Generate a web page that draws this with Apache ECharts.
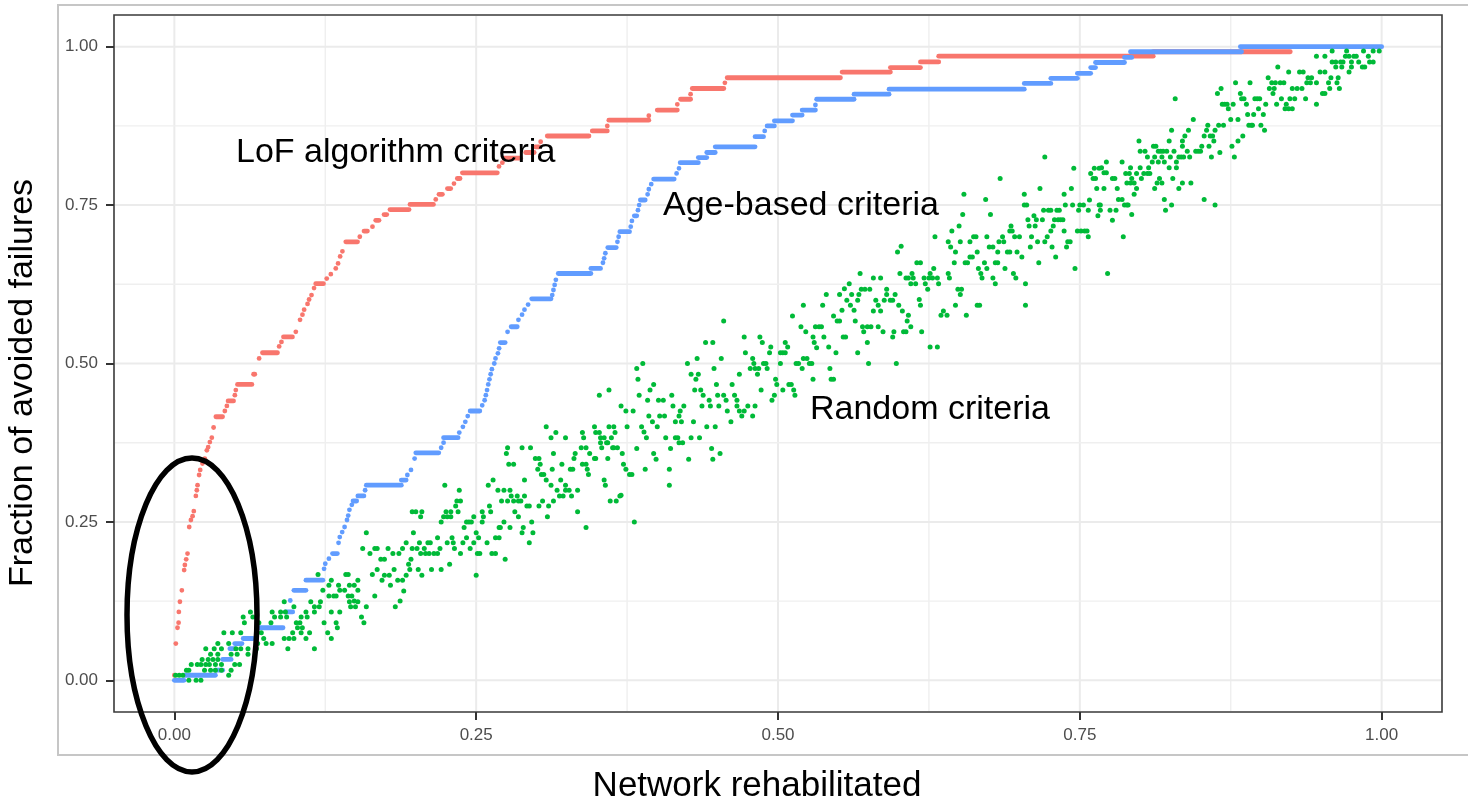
<!DOCTYPE html>
<html>
<head>
<meta charset="utf-8">
<script src="https://cdn.jsdelivr.net/npm/echarts@6/dist/echarts.min.js"></script>
<style>html,body{margin:0;padding:0;background:#fff;}#c{width:1468px;height:802px;}</style>
</head>
<body>
<div id="c"></div>
<script>
// ---------- data ----------
const xTicks = [0, 0.25, 0.5, 0.75, 1];
const yTicks = [0, 0.25, 0.5, 0.75, 1];
const xMinor = [0.125, 0.375, 0.625, 0.875];
const yMinor = [0.125, 0.375, 0.625, 0.875];

const seriesNames = ['LoF algorithm criteria', 'Age-based criteria', 'Random criteria'];
const xTitle = 'Network rehabilitated';
const yTitle = 'Fraction of avoided failures';

// LoF algorithm criteria: [x start, x end, y] runs of points
const lofRuns = [
[0,0,0.008],[0.0012,0.0012,0.058],[0.0026,0.0026,0.083],[0.0035,0.0035,0.091],[0.0037,0.0037,0.108],[0.0046,0.0046,0.124],[0.0062,0.0062,0.142],[0.0081,0.0081,0.174],[0.0087,0.0087,0.182],[0.0098,0.0098,0.191],[0.0109,0.0109,0.2],[0.0123,0.0123,0.242],[0.0137,0.0137,0.253],[0.0151,0.0151,0.259],[0.0161,0.0161,0.267],[0.0178,0.0178,0.291],[0.0186,0.0186,0.3],[0.0192,0.0192,0.308],[0.0205,0.0205,0.324],[0.0214,0.0214,0.332],[0.0233,0.0233,0.342],[0.0252,0.0252,0.35],[0.0269,0.0269,0.363],[0.028,0.028,0.368],[0.0294,0.0294,0.376],[0.031,0.031,0.383],[0.0325,0.0325,0.399],[0.0344,0.0399,0.416],[0.0418,0.0418,0.425],[0.0435,0.0435,0.433],[0.0445,0.049,0.441],[0.0501,0.0501,0.45],[0.0509,0.0509,0.458],[0.0523,0.0642,0.467],[0.0656,0.0666,0.483],[0.0702,0.0702,0.508],[0.073,0.0854,0.517],[0.0868,0.0868,0.527],[0.0887,0.0887,0.534],[0.0904,0.0978,0.542],[0.1006,0.1006,0.55],[0.1041,0.1041,0.569],[0.1061,0.1061,0.577],[0.1075,0.1075,0.585],[0.1103,0.1103,0.594],[0.1116,0.1116,0.601],[0.1136,0.1136,0.608],[0.1157,0.1157,0.619],[0.1171,0.1235,0.626],[0.1262,0.1262,0.634],[0.1296,0.1296,0.641],[0.1337,0.1337,0.65],[0.1356,0.1356,0.658],[0.1373,0.1373,0.669],[0.1392,0.1392,0.677],[0.142,0.1517,0.692],[0.1536,0.1536,0.7],[0.1571,0.1599,0.709],[0.1641,0.1641,0.716],[0.1668,0.1695,0.726],[0.1737,0.1759,0.735],[0.1786,0.1944,0.743],[0.1952,0.2146,0.751],[0.2165,0.2165,0.759],[0.2192,0.222,0.767],[0.2262,0.2289,0.776],[0.2316,0.2316,0.784],[0.2344,0.2366,0.792],[0.2386,0.2675,0.801],[0.2689,0.2689,0.811],[0.2717,0.2717,0.817],[0.273,0.2868,0.824],[0.291,0.298,0.833],[0.299,0.302,0.842],[0.3034,0.3034,0.85],[0.3089,0.3434,0.859],[0.3462,0.3586,0.867],[0.3586,0.3586,0.875],[0.3599,0.393,0.884],[0.393,0.393,0.891],[0.4,0.4166,0.9],[0.4166,0.4166,0.909],[0.4193,0.4276,0.917],[0.4276,0.4276,0.925],[0.429,0.4551,0.934],[0.456,0.456,0.943],[0.4579,0.5517,0.951],[0.5531,0.5931,0.96],[0.5931,0.618,0.967],[0.618,0.6331,0.976],[0.6331,0.8108,0.985],[0.8108,0.9243,0.992]
];

// Age-based criteria: [x start, x end, y] runs of points
const ageRuns = [
[0,0.008,0],[0.008,0.034,0.008],[0.034,0.040,0.016],[0.040,0.047,0.033],[0.046,0.050,0.050],[0.050,0.056,0.058],[0.057,0.065,0.066],[0.070,0.090,0.083],[0.092,0.098,0.108],[0.096,0.096,0.126],[0.099,0.109,0.142],[0.109,0.123,0.158],[0.124,0.124,0.176],[0.125,0.125,0.184],[0.128,0.128,0.192],[0.131,0.135,0.2],[0.136,0.136,0.217],[0.137,0.137,0.226],[0.139,0.139,0.234],[0.141,0.141,0.242],[0.143,0.143,0.253],[0.144,0.144,0.26],[0.145,0.145,0.269],[0.147,0.147,0.277],[0.148,0.151,0.283],[0.152,0.157,0.291],[0.158,0.158,0.3],[0.159,0.188,0.308],[0.188,0.192,0.316],[0.193,0.193,0.324],[0.196,0.196,0.332],[0.199,0.199,0.35],[0.2,0.219,0.359],[0.221,0.221,0.367],[0.223,0.223,0.375],[0.223,0.235,0.383],[0.236,0.236,0.391],[0.239,0.239,0.4],[0.241,0.241,0.408],[0.243,0.243,0.417],[0.245,0.253,0.425],[0.255,0.255,0.434],[0.257,0.257,0.442],[0.258,0.258,0.45],[0.259,0.259,0.458],[0.260,0.260,0.467],[0.261,0.261,0.475],[0.262,0.262,0.483],[0.263,0.263,0.491],[0.265,0.265,0.5],[0.266,0.266,0.508],[0.268,0.268,0.516],[0.269,0.269,0.524],[0.270,0.274,0.533],[0.276,0.276,0.55],[0.279,0.284,0.558],[0.285,0.285,0.569],[0.288,0.288,0.577],[0.290,0.290,0.585],[0.293,0.293,0.593],[0.296,0.312,0.602],[0.313,0.313,0.608],[0.314,0.314,0.616],[0.315,0.315,0.624],[0.316,0.316,0.632],[0.318,0.345,0.642],[0.345,0.353,0.65],[0.355,0.355,0.659],[0.356,0.356,0.666],[0.357,0.357,0.674],[0.359,0.366,0.683],[0.367,0.367,0.692],[0.368,0.368,0.7],[0.369,0.377,0.708],[0.378,0.378,0.716],[0.379,0.379,0.725],[0.381,0.383,0.733],[0.384,0.384,0.742],[0.385,0.385,0.75],[0.386,0.390,0.758],[0.392,0.392,0.767],[0.393,0.393,0.775],[0.395,0.395,0.783],[0.397,0.414,0.791],[0.416,0.416,0.8],[0.418,0.418,0.808],[0.419,0.434,0.817],[0.434,0.441,0.825],[0.441,0.448,0.833],[0.448,0.481,0.842],[0.481,0.488,0.858],[0.489,0.489,0.867],[0.491,0.497,0.875],[0.497,0.512,0.883],[0.512,0.52,0.892],[0.52,0.531,0.9],[0.531,0.531,0.908],[0.532,0.563,0.917],[0.563,0.592,0.925],[0.592,0.704,0.933],[0.704,0.726,0.942],[0.726,0.748,0.95],[0.748,0.759,0.958],[0.759,0.763,0.967],[0.763,0.787,0.975],[0.787,0.793,0.983],[0.792,0.884,0.992],[0.883,1.0,1.0]
];

// Random criteria: [x, y] points
const randomPoints = [
[0.012,0],[0.018,0],[0.022,0],
[0.001,0.008],[0.004,0.008],[0.007,0.008],[0.045,0.008],
[0.010,0.016],[0.012,0.016],[0.025,0.016],[0.030,0.016],[0.034,0.016],[0.039,0.016],[0.047,0.016],
[0.014,0.025],[0.019,0.025],[0.022,0.025],[0.026,0.025],[0.029,0.025],[0.034,0.025],[0.039,0.025],[0.050,0.025],[0.054,0.025],
[0.023,0.033],[0.028,0.033],[0.032,0.033],[0.036,0.033],
[0.030,0.041],[0.036,0.041],[0.047,0.041],[0.052,0.041],[0.061,0.041],
[0.026,0.05],[0.033,0.05],[0.039,0.05],[0.051,0.05],[0.055,0.05],[0.061,0.05],[0.068,0.05],[0.094,0.05],[0.116,0.05],
[0.036,0.058],[0.045,0.058],[0.069,0.058],[0.076,0.058],[0.081,0.058],
[0.068,0.066],[0.074,0.066],[0.091,0.066],[0.095,0.066],[0.099,0.066],[0.109,0.066],[0.130,0.066],
[0.041,0.075],[0.048,0.075],[0.055,0.075],[0.072,0.075],[0.098,0.075],[0.105,0.075],[0.112,0.075],[0.127,0.075],
[0.102,0.083],[0.106,0.083],[0.135,0.083],
[0.058,0.091],[0.070,0.091],[0.080,0.091],[0.101,0.091],[0.104,0.091],[0.124,0.091],[0.134,0.091],[0.157,0.091],
[0.057,0.1],[0.065,0.1],[0.083,0.1],[0.088,0.1],[0.093,0.1],[0.105,0.1],[0.110,0.1],[0.155,0.1],
[0.063,0.108],[0.081,0.108],[0.088,0.108],[0.092,0.108],[0.109,0.108],[0.116,0.108],[0.130,0.108],[0.137,0.108],
[0.099,0.116],[0.116,0.116],[0.120,0.116],[0.146,0.116],[0.150,0.116],[0.159,0.116],
[0.091,0.124],[0.113,0.124],[0.121,0.124],[0.145,0.124],[0.152,0.124],
[0.159,0.233],[0.156,0.208],[0.166,0.208],[0.168,0.208],[0.162,0.2],[0.168,0.175],[0.119,0.167],[0.142,0.167],[0.144,0.167],[0.164,0.167],[0.130,0.158],[0.152,0.158],[0.128,0.15],[0.136,0.15],[0.145,0.15],[0.149,0.15],[0.123,0.142],[0.137,0.142],[0.141,0.142],[0.152,0.142],[0.128,0.133],[0.132,0.133],[0.134,0.133],[0.144,0.133],[0.147,0.133],[0.166,0.133],[0.149,0.125],
[0.183,0.116],[0.187,0.125],[0.190,0.141],[0.185,0.158],[0.189,0.158],[0.179,0.15],[0.174,0.166],[0.178,0.166],[0.182,0.175],[0.192,0.166],[0.195,0.175],[0.202,0.175],[0.205,0.166],[0.172,0.158],[0.171,0.191],[0.174,0.191],[0.196,0.191],[0.194,0.183],[0.177,0.208],[0.181,0.2],[0.186,0.2],[0.189,0.208],[0.192,0.217],[0.197,0.208],[0.201,0.208],[0.198,0.233],[0.203,0.217],[0.204,0.2],[0.207,0.208],[0.210,0.217],[0.212,0.217],[0.208,0.2],[0.211,0.2],[0.215,0.2],[0.218,0.2],[0.220,0.208],[0.218,0.225],[0.213,0.175],[0.221,0.175],[0.228,0.183],[0.226,0.217],[0.230,0.225],[0.231,0.217],[0.232,0.208],[0.237,0.2],[0.239,0.217],[0.242,0.225],[0.245,0.208],[0.248,0.217],[0.250,0.166],[0.251,0.2],[0.253,0.2],[0.250,0.233],[0.252,0.225],[0.259,0.217],[0.263,0.2],[0.266,0.2],[0.266,0.225],[0.269,0.225],[0.274,0.191],
[0.240,0.241],[0.242,0.25],[0.244,0.25],[0.246,0.25],[0.248,0.258],[0.221,0.25],[0.223,0.258],[0.226,0.258],[0.229,0.258],[0.225,0.266],[0.229,0.266],[0.233,0.275],[0.235,0.266],[0.234,0.283],[0.237,0.283],[0.236,0.3],[0.224,0.308],[0.197,0.266],[0.200,0.266],[0.205,0.266],[0.204,0.258],
[0.255,0.25],[0.256,0.258],[0.255,0.266],[0.261,0.275],[0.262,0.266],[0.260,0.308],[0.264,0.316],[0.268,0.3],[0.271,0.283],[0.273,0.3],[0.276,0.283],[0.278,0.3],[0.279,0.291],[0.281,0.283],[0.284,0.291],[0.285,0.283],[0.287,0.283],[0.290,0.291],[0.292,0.275],[0.294,0.275],[0.290,0.316],[0.277,0.341],[0.275,0.358],[0.281,0.341],[0.276,0.367],[0.269,0.241],[0.270,0.241],[0.273,0.25],[0.278,0.241],[0.282,0.266],[0.285,0.258],[0.288,0.233],[0.289,0.241],[0.294,0.217],[0.296,0.25],[0.297,0.233],[0.288,0.367],[0.295,0.367],
[0.299,0.35],[0.302,0.35],[0.303,0.341],[0.301,0.333],[0.306,0.325],[0.304,0.325],[0.308,0.316],[0.312,0.308],[0.313,0.333],[0.314,0.358],[0.321,0.341],[0.320,0.316],[0.324,0.308],[0.317,0.3],[0.319,0.291],[0.322,0.291],[0.324,0.3],[0.327,0.3],[0.329,0.291],[0.334,0.3],[0.328,0.333],[0.330,0.333],[0.331,0.35],[0.332,0.358],[0.337,0.367],[0.334,0.266],[0.309,0.258],[0.302,0.275],[0.305,0.283],[0.310,0.275],[0.314,0.283],[0.308,0.4],[0.312,0.383],[0.316,0.391],[0.324,0.383],[0.338,0.391],[0.339,0.383],[0.341,0.241],
[0.338,0.341],[0.341,0.341],[0.342,0.333],[0.343,0.325],[0.348,0.35],[0.349,0.35],[0.344,0.358],[0.341,0.367],[0.353,0.375],[0.354,0.367],[0.359,0.375],[0.359,0.35],[0.363,0.367],[0.364,0.367],[0.367,0.367],[0.356,0.316],[0.357,0.308],[0.361,0.283],[0.366,0.283],[0.369,0.291],
[0.348,0.4],[0.349,0.391],[0.352,0.391],[0.353,0.383],[0.356,0.383],[0.358,0.375],[0.360,0.4],[0.364,0.4],[0.365,0.391],[0.362,0.383],[0.352,0.45],[0.360,0.458],
[0.370,0.433],[0.374,0.425],[0.375,0.4],[0.380,0.425],[0.371,0.358],[0.372,0.341],[0.374,0.333],[0.377,0.325],[0.379,0.325],[0.370,0.292],[0.381,0.25],[0.383,0.492],[0.388,0.5],[0.384,0.475],[0.385,0.45],[0.383,0.366],[0.390,0.333],[0.387,0.4],[0.389,0.392],[0.391,0.383],[0.392,0.442],[0.393,0.417],[0.394,0.458],[0.397,0.467],[0.396,0.408],[0.397,0.358],[0.399,0.349],[0.400,0.4],[0.401,0.442],[0.405,0.442],[0.402,0.417],[0.406,0.417],[0.407,0.383],[0.410,0.333],[0.410,0.308],[0.411,0.366],
[0.412,0.45],[0.413,0.433],[0.415,0.408],[0.415,0.383],[0.417,0.383],[0.418,0.417],[0.419,0.425],[0.418,0.375],[0.421,0.375],[0.420,0.408],[0.422,0.433],[0.425,0.5],[0.426,0.349],[0.428,0.483],[0.428,0.383],[0.430,0.408],[0.431,0.458],[0.432,0.475],[0.433,0.508],[0.434,0.483],[0.435,0.383],[0.436,0.458],[0.437,0.433],[0.438,0.45],[0.440,0.533],[0.441,0.4],[0.443,0.442],[0.444,0.433],[0.445,0.366],[0.446,0.349],[0.446,0.533],[0.447,0.492],[0.448,0.4],[0.449,0.467],[0.450,0.45],[0.451,0.433],[0.452,0.358],[0.453,0.508],[0.455,0.567],
[0.455,0.45],[0.457,0.442],[0.458,0.425],[0.461,0.408],[0.462,0.467],[0.464,0.45],[0.466,0.442],[0.466,0.433],[0.468,0.425],[0.468,0.483],[0.470,0.417],[0.472,0.425],[0.472,0.542],[0.473,0.517],[0.475,0.433],[0.477,0.492],[0.479,0.508],[0.479,0.417],[0.480,0.5],[0.481,0.433],[0.481,0.492],[0.483,0.483],[0.484,0.492],[0.485,0.542],[0.486,0.458],[0.487,0.533],[0.488,0.5],[0.490,0.5],[0.491,0.492],[0.493,0.517],[0.494,0.526],[0.495,0.442],[0.497,0.45],[0.498,0.475],[0.499,0.467],[0.502,0.5],[0.502,0.517],[0.504,0.517],[0.504,0.458],[0.506,0.533],[0.506,0.517],[0.508,0.526],[0.509,0.467],[0.511,0.467],[0.512,0.575],[0.513,0.458],[0.514,0.45],[0.515,0.5],[0.517,0.5],[0.519,0.558],[0.520,0.492],[0.521,0.508],[0.521,0.592],[0.523,0.55],[0.524,0.508],[0.526,0.5],[0.528,0.5],[0.529,0.475],[0.529,0.542],[0.530,0.533],[0.531,0.558],[0.532,0.525],[0.534,0.558],[0.536,0.558],[0.537,0.592],[0.538,0.542],[0.540,0.609],[0.542,0.526],[0.543,0.492],[0.544,0.475],[0.546,0.475],[0.546,0.575],[0.548,0.517],[0.549,0.567],[0.551,0.567],[0.551,0.609],[0.553,0.584],[0.554,0.542],[0.556,0.542],[0.555,0.618],[0.557,0.6],[0.559,0.626],[0.560,0.592],[0.561,0.609],[0.563,0.584],[0.564,0.567],[0.566,0.6],[0.566,0.517],[0.567,0.609],
[0.568,0.642],[0.569,0.617],[0.572,0.617],[0.576,0.617],[0.579,0.635],[0.585,0.635],[0.571,0.55],[0.570,0.558],[0.574,0.558],[0.577,0.558],[0.574,0.533],[0.575,0.5],[0.579,0.583],[0.581,0.6],[0.583,0.592],[0.585,0.583],[0.588,0.6],[0.590,0.617],[0.590,0.609],[0.593,0.6],[0.595,0.6],[0.597,0.609],[0.600,0.592],[0.603,0.583],[0.607,0.567],[0.608,0.576],[0.604,0.55],[0.606,0.55],[0.610,0.558],[0.595,0.542],[0.596,0.55],[0.598,0.5],[0.587,0.55],[0.583,0.558],[0.599,0.676],[0.602,0.685],[0.601,0.642],[0.606,0.635],[0.608,0.635],[0.611,0.642],[0.612,0.635],[0.610,0.626],[0.614,0.626],
[0.615,0.659],[0.618,0.659],[0.617,0.601],[0.618,0.592],[0.621,0.635],[0.622,0.626],[0.624,0.617],[0.625,0.635],[0.626,0.642],[0.628,0.635],[0.629,0.65],[0.630,0.7],[0.632,0.635],[0.633,0.626],[0.619,0.55],[0.626,0.526],[0.632,0.526],[0.635,0.576],[0.637,0.583],[0.640,0.576],[0.641,0.642],[0.642,0.635],[0.641,0.692],[0.643,0.684],[0.644,0.709],[0.646,0.659],[0.647,0.676],[0.647,0.592],[0.649,0.617],[0.650,0.717],[0.651,0.609],[0.652,0.617],[0.651,0.692],[0.653,0.735],[0.654,0.767],[0.655,0.659],[0.657,0.659],[0.656,0.576],[0.659,0.692],[0.659,0.668],[0.661,0.668],[0.662,0.7],[0.664,0.7],[0.665,0.676],[0.665,0.592],[0.667,0.592],[0.666,0.65],[0.668,0.642],[0.669,0.635],[0.671,0.659],[0.672,0.759],[0.673,0.65],[0.673,0.7],[0.675,0.684],[0.678,0.684],[0.676,0.735],[0.678,0.635],[0.680,0.626],[0.680,0.659],[0.682,0.659],[0.682,0.676],[0.683,0.692],[0.684,0.792],[0.686,0.7],[0.687,0.692],[0.688,0.65],[0.690,0.676],[0.692,0.676],[0.692,0.709],[0.693,0.717],[0.694,0.709],[0.695,0.642],[0.696,0.7],[0.697,0.635],[0.698,0.676],[0.700,0.7],[0.702,0.668],[0.704,0.767],[0.704,0.75],[0.706,0.75],[0.705,0.626],[0.705,0.592],[0.707,0.727],[0.708,0.717],[0.709,0.684],[0.710,0.7],[0.712,0.733],[0.713,0.717],[0.714,0.727],[0.715,0.692],[0.716,0.659],[0.717,0.776],[0.719,0.727],[0.720,0.742],[0.721,0.826],[0.721,0.692],[0.723,0.7],[0.724,0.742],[0.726,0.742],[0.726,0.709],[0.727,0.684],[0.728,0.717],[0.729,0.727],[0.730,0.668],[0.731,0.742],[0.732,0.727],[0.733,0.742],[0.734,0.727],[0.736,0.727],[0.737,0.767],[0.737,0.709],[0.738,0.75],[0.739,0.684],[0.740,0.692],[0.742,0.692],[0.743,0.776],[0.744,0.75],[0.745,0.808],[0.746,0.65],[0.748,0.709],[0.749,0.742],[0.750,0.75],[0.753,0.75],[0.751,0.709],[0.754,0.709],[0.756,0.709],[0.757,0.742],[0.757,0.7],[0.758,0.758],[0.759,0.8],[0.761,0.792],[0.762,0.808],[0.763,0.792],[0.764,0.776],[0.765,0.733],[0.766,0.75],[0.766,0.808],
[0.767,0.75],[0.767,0.742],[0.775,0.742],[0.780,0.742],[0.777,0.726],[0.782,0.759],[0.785,0.759],[0.787,0.75],[0.789,0.75],[0.790,0.75],[0.793,0.735],[0.786,0.7],[0.773,0.642],[0.820,0.759],[0.821,0.742],[0.826,0.75],[0.853,0.759],[0.862,0.75],
[0.772,0.818],[0.785,0.818],[0.792,0.809],[0.791,0.8],[0.793,0.792],[0.789,0.785],[0.792,0.785],[0.795,0.785],[0.795,0.767],[0.797,0.8],[0.800,0.809],[0.801,0.792],[0.803,0.8],[0.806,0.8],[0.808,0.8],[0.807,0.809],[0.811,0.843],[0.813,0.843],[0.815,0.835],[0.817,0.835],[0.819,0.835],[0.822,0.835],[0.810,0.818],[0.812,0.826],[0.815,0.818],[0.818,0.826],[0.820,0.818],[0.824,0.809],[0.825,0.826],[0.826,0.868],[0.828,0.835],[0.829,0.918],[0.830,0.818],[0.832,0.826],[0.834,0.826],[0.836,0.826],[0.835,0.851],[0.835,0.843],[0.837,0.859],[0.840,0.868],[0.841,0.826],[0.844,0.885],[0.846,0.835],[0.848,0.835],[0.850,0.835],[0.851,0.843],[0.853,0.859],[0.855,0.868],[0.856,0.876],[0.857,0.843],[0.858,0.859],[0.860,0.859],[0.861,0.851],[0.859,0.826],[0.862,0.868],[0.864,0.926],[0.865,0.876],[0.866,0.833],[0.867,0.934],[0.868,0.909],[0.869,0.876],[0.870,0.909],[0.872,0.909],[0.873,0.902],[0.875,0.885],[0.876,0.843],[0.877,0.909],[0.878,0.826],[0.879,0.943],[0.881,0.885],[0.881,0.851],[0.883,0.926],[0.884,0.918],[0.886,0.918],[0.885,0.859],[0.888,0.909],[0.889,0.893],[0.890,0.876],[0.892,0.876],[0.893,0.876],[0.891,0.943],[0.894,0.893],[0.895,0.918],[0.897,0.918],[0.898,0.902],[0.899,0.918],[0.900,0.876],[0.902,0.893],[0.903,0.868],[0.904,0.909],[0.906,0.951],[0.907,0.934],[0.909,0.943],[0.910,0.926],[0.911,0.934],[0.912,0.943],[0.913,0.909],[0.914,0.968],[0.916,0.943],[0.917,0.918],[0.919,0.943],[0.920,0.902],[0.921,0.909],[0.923,0.96],[0.923,0.902],[0.924,0.918],[0.926,0.902],[0.926,0.934],[0.930,0.934],[0.928,0.918],[0.932,0.96],[0.935,0.96],[0.934,0.934],[0.937,0.918],[0.938,0.943],[0.939,0.951],[0.942,0.951],[0.941,0.943],[0.946,0.943],[0.946,0.909],[0.949,0.96],[0.951,0.926],[0.953,0.926],[0.953,0.96],[0.956,0.943],[0.957,0.934],[0.958,0.951],[0.959,0.976],[0.959,0.993],[0.962,0.976],[0.962,0.968],[0.963,0.943],[0.964,0.951],[0.965,0.934],[0.966,0.976],[0.968,0.976],[0.967,0.968],[0.970,0.985],[0.971,0.993],[0.973,0.985],[0.973,0.96],[0.975,0.976],[0.975,0.968],[0.977,0.985],[0.979,0.985],[0.981,0.976],[0.984,0.968],[0.986,0.968],[0.985,0.993],[0.989,0.985],[0.990,0.976],[0.993,0.976],[0.993,0.993],[0.998,0.993],[0.946,0.985],[0.953,0.985],
[0.768,0.809],[0.770,0.801],[0.772,0.801],[0.777,0.792],[0.779,0.792],[0.770,0.776],[0.781,0.776],[0.788,0.8],[0.797,0.776],[0.799,0.851],[0.800,0.835],[0.804,0.835],[0.806,0.826],[0.812,0.776],[0.814,0.785],[0.816,0.792],[0.818,0.785],[0.824,0.851],[0.827,0.792],[0.830,0.809],[0.832,0.776],[0.835,0.785],[0.839,0.835],[0.842,0.785]
];

// ---------- chart ----------
const RED = '#F8766D', BLUE = '#619CFF', GREEN = '#00BA38';
const FONT = 'Liberation Sans, Arial, sans-serif';

const chart = echarts.init(document.getElementById('c'), null, {renderer: 'canvas'});

const gridData = []
  .concat(xTicks.map(v => [v, 0, 1]))
  .concat(xMinor.map(v => [v, 0, 0]))
  .concat(yTicks.map(v => [v, 1, 1]))
  .concat(yMinor.map(v => [v, 1, 0]));

function runRenderer(color) {
  return function (params, api) {
    const x0 = api.value(0), x1 = api.value(1), y = api.value(2);
    const p0 = api.coord([x0, y]), p1 = api.coord([x1, y]);
    if (Math.abs(p1[0] - p0[0]) < 0.5) {
      return {type: 'circle', shape: {cx: p0[0], cy: p0[1], r: 2.4}, style: {fill: color}};
    }
    return {type: 'line', shape: {x1: p0[0], y1: p0[1], x2: p1[0], y2: p1[1]},
      style: {stroke: color, lineWidth: 4.8, lineCap: 'round'}};
  };
}

const tickLabel = {
  fontSize: 17, color: '#4d4d4d', fontFamily: FONT,
  formatter: v => Number(v).toFixed(2)
};

chart.setOption({
  animation: false,
  backgroundColor: '#ffffff',
  grid: {left: 114, top: 15, width: 1328, height: 697, show: true,
    borderColor: '#3a3a3a', borderWidth: 1.6, backgroundColor: '#ffffff'},
  xAxis: {
    type: 'value', min: -0.05, max: 1.05,
    axisLine: {show: false, onZero: false}, splitLine: {show: false},
    axisTick: {show: true, customValues: xTicks, length: 8, lineStyle: {color: '#333', width: 2}},
    axisLabel: Object.assign({customValues: xTicks, margin: 15}, tickLabel)
  },
  yAxis: {
    type: 'value', min: -0.05, max: 1.05,
    axisLine: {show: false, onZero: false}, splitLine: {show: false},
    axisTick: {show: true, customValues: yTicks, length: 8, lineStyle: {color: '#333', width: 2}},
    axisLabel: Object.assign({customValues: yTicks, margin: 16}, tickLabel)
  },
  series: [
    {
      type: 'custom', name: 'grid', silent: true, z: 1,
      data: gridData, encode: {x: 0},
      renderItem: function (params, api) {
        const v = api.value(0), dir = api.value(1), major = api.value(2);
        const cs = params.coordSys;
        let shape;
        if (dir === 0) {
          const px = api.coord([v, 0])[0];
          shape = {x1: px, y1: cs.y + 1, x2: px, y2: cs.y + cs.height - 1};
        } else {
          const py = api.coord([0, v])[1];
          shape = {x1: cs.x + 1, y1: py, x2: cs.x + cs.width - 1, y2: py};
        }
        return {type: 'line', shape: shape,
          style: {stroke: major ? '#EBEBEB' : '#EFEFEF', lineWidth: major ? 2 : 1.4}};
      }
    },
    {
      type: 'custom', name: seriesNames[0], z: 2, data: lofRuns,
      encode: {x: [0, 1], y: 2}, renderItem: runRenderer(RED)
    },
    {
      type: 'custom', name: seriesNames[1], z: 3, data: ageRuns,
      encode: {x: [0, 1], y: 2}, renderItem: runRenderer(BLUE)
    },
    {
      type: 'scatter', name: seriesNames[2], z: 4, data: randomPoints,
      symbolSize: 5, itemStyle: {color: GREEN, opacity: 1}
    }
  ],
  graphic: [
    {type: 'rect', z: -10, silent: true, shape: {x: 58, y: 5, width: 1430, height: 750},
      style: {fill: 'none', stroke: '#c6c6c6', lineWidth: 2}},
    {type: 'text', z: 100, x: 23, y: 383, rotation: Math.PI / 2,
      style: {text: yTitle, font: '34px ' + FONT, fill: '#000', textAlign: 'center', textVerticalAlign: 'middle'}},
    {type: 'text', z: 100, x: 757, y: 786,
      style: {text: xTitle, font: '35px ' + FONT, fill: '#000', textAlign: 'center', textVerticalAlign: 'middle'}},
    {type: 'text', z: 100, x: 236, y: 153,
      style: {text: seriesNames[0], font: '34px ' + FONT, fill: '#000', textAlign: 'left', textVerticalAlign: 'middle'}},
    {type: 'text', z: 100, x: 663, y: 206,
      style: {text: seriesNames[1], font: '34px ' + FONT, fill: '#000', textAlign: 'left', textVerticalAlign: 'middle'}},
    {type: 'text', z: 100, x: 810, y: 410,
      style: {text: seriesNames[2], font: '34px ' + FONT, fill: '#000', textAlign: 'left', textVerticalAlign: 'middle'}},
    {type: 'ellipse', z: 100, silent: true, shape: {cx: 192, cy: 615, rx: 65, ry: 157},
      style: {fill: 'none', stroke: '#000', lineWidth: 5.5}}
  ]
});
</script>
</body>
</html>
